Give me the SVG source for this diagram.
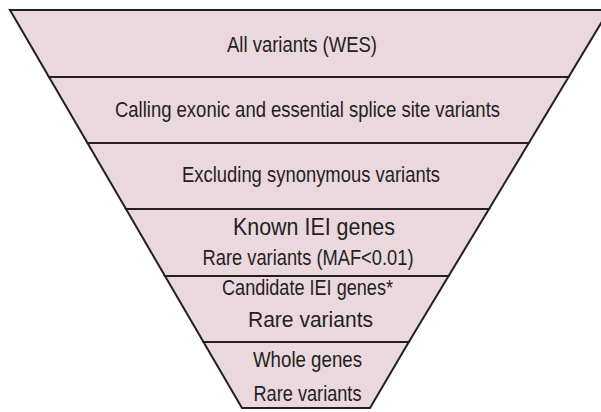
<svg xmlns="http://www.w3.org/2000/svg" width="601" height="412" viewBox="0 0 601 412">
<style>
.lvl{fill:#ead8de;stroke:#231f20;stroke-width:2;stroke-linejoin:miter}
.t{font-family:"Liberation Sans",Arial,sans-serif;font-size:22px;fill:#231f20;text-anchor:middle}
</style>
<rect width="601" height="412" fill="#ffffff"/>
<g id="level1"><polygon class="lvl" points="10,10 609,10 568.6,77 49,77"/><text class="t" x="302" y="52" textLength="150" lengthAdjust="spacingAndGlyphs">All variants (WES)</text></g>
<g id="level2"><polygon class="lvl" points="49,77 568.6,77 528.8,143 87.5,143"/><text class="t" x="307.5" y="117" textLength="385" lengthAdjust="spacingAndGlyphs">Calling exonic and essential splice site variants</text></g>
<g id="level3"><polygon class="lvl" points="87.5,143 528.8,143 489,209 126,209"/><text class="t" x="311" y="182" textLength="258" lengthAdjust="spacingAndGlyphs">Excluding  synonymous  variants</text></g>
<g id="level4"><polygon class="lvl" points="126,209 489,209 448.6,276 165,276"/><text class="t" x="314" y="235" textLength="162" lengthAdjust="spacingAndGlyphs" style="font-size:23px">Known IEI genes</text><text class="t" x="308" y="265" textLength="211" lengthAdjust="spacingAndGlyphs">Rare variants (MAF&lt;0.01)</text></g>
<g id="level5"><polygon class="lvl" points="165,276 448.6,276 408.8,342 203.5,342"/><text class="t" x="307.5" y="295" textLength="171" lengthAdjust="spacingAndGlyphs">Candidate IEI genes*</text><text class="t" x="310.5" y="327" textLength="125" lengthAdjust="spacingAndGlyphs">Rare variants</text></g>
<g id="level6"><polygon class="lvl" points="203.5,342 408.8,342 370,408 242,408"/><text class="t" x="307.5" y="367" textLength="109" lengthAdjust="spacingAndGlyphs">Whole genes</text><text class="t" x="307.5" y="401" textLength="108" lengthAdjust="spacingAndGlyphs">Rare variants</text></g>
<g id="connectors"></g>
</svg>
